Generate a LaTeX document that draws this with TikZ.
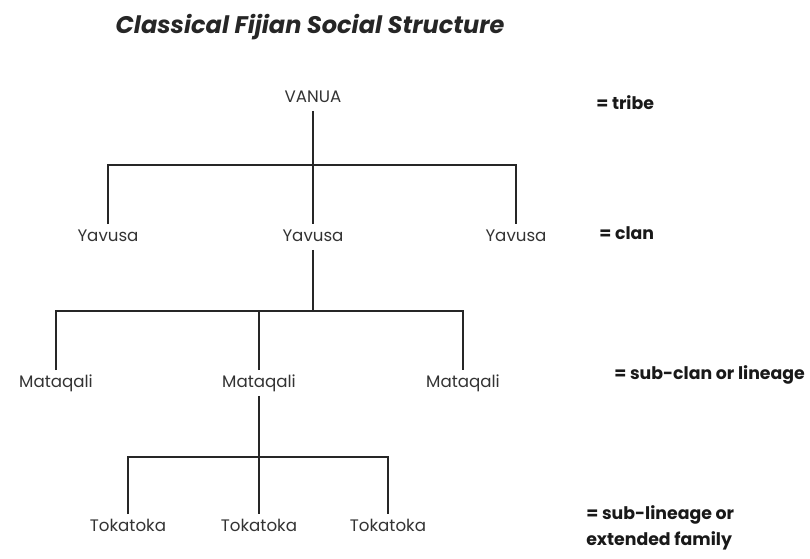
\documentclass[tikz,border=0pt]{standalone}
\usepackage{fontspec}
\setmainfont{Poppins}
\begin{document}
\begin{tikzpicture}[x=0.75pt,y=0.75pt,yscale=-1,
  rank/.style={inner sep=3pt, text height=10pt, text depth=3pt, font=\fontsize{12.5}{14}\selectfont, text=black!80},
  gloss/.style={anchor=west, inner sep=0.75pt, font=\bfseries\fontsize{13}{19}\selectfont, align=left, text=black!90},
  link/.style={line width=1.5pt, draw=black!85}]
\useasboundingbox (0,0) rectangle (810,558);

% Text Node
\node (title) at (310,27) [font=\bfseries\itshape\fontsize{18}{22}\selectfont, text=black!85] {Classical Fijian Social Structure};

% Text Node
\node [rank] (vanua) at (313,98) {VANUA};
% Text Node
\node [rank] (yav1) at (108,237) {Yavusa};
\node [rank] (yav2) at (313,237) {Yavusa};
\node [rank] (yav3) at (516,237) {Yavusa};
% Text Node
\node [rank] (mat1) at (56,383) {Mataqali};
\node [rank] (mat2) at (259,383) {Mataqali};
\node [rank] (mat3) at (463,383) {Mataqali};
% Text Node
\node [rank] (tok1) at (128,527) {Tokatoka};
\node [rank] (tok2) at (259,527) {Tokatoka};
\node [rank] (tok3) at (388,527) {Tokatoka};

% Text Node
\node [gloss] (tribe) at (595,103) {= tribe};
\node [gloss] (clan) at (598,233) {= clan};
\node [gloss] (subclan) at (613,375) {= sub-clan or lineage};
\node [gloss] (sublineage) at (585,528) {= sub-lineage or\\extended family};

\coordinate (jyav) at (313,165);
\coordinate (jmat) at (313,311);
\coordinate (jtok) at (259,457);

%Straight Lines
\draw [link] (vanua.south) -- (yav2.north);
\draw [link] (yav1.north) |- (jyav) -| (yav3.north);
%Straight Lines
\draw [link] (yav2.south) -- (jmat);
\draw [link] (mat1.north) |- (jmat) -| (mat3.north);
\draw [link] (mat2.north) -- (mat2.north |- jmat);
%Straight Lines
\draw [link] (mat2.south) -- (tok2.north);
\draw [link] (tok1.north) |- (jtok) -| (tok3.north);

\end{tikzpicture}
\end{document}
